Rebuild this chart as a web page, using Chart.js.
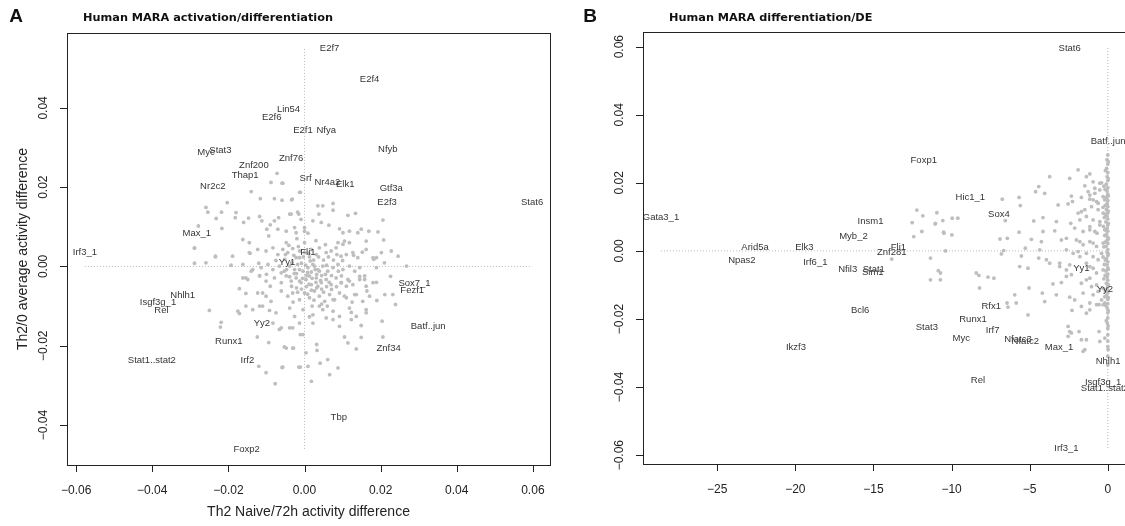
<!DOCTYPE html>
<html>
<head>
<meta charset="utf-8">
<script src="https://cdn.jsdelivr.net/npm/chart.js@4.4.0/dist/chart.umd.min.js"></script>
<style>
html, body { margin: 0; padding: 0; background: #fff; overflow: hidden; }
#wrapA { position: absolute; left: 0; top: 0; width: 565px; height: 526px; }
#wrapB { position: absolute; left: 565px; top: 0; width: 575px; height: 526px; }
</style>
</head>
<body>
<div id="wrapA"><canvas id="chartA"></canvas></div>
<div id="wrapB"><canvas id="chartB"></canvas></div>
<script>
// ---- panel A: activation/differentiation ----
const namesA = ['E2f7','E2f4','Lin54','E2f6','E2f1','Nfya','Nfyb','Myc','Stat3','Znf76','Znf200','Thap1','Srf','Nr4a2','Elk1','Nr2c2','Gtf3a','E2f3','Stat6','Max_1','Irf3_1','Fli1','Yy1','Nhlh1','Isgf3g_1','Rel','Sox7_1','Fezf1','Yy2','Batf..jun','Runx1','Znf34','Stat1..stat2','Irf2','Tbp','Foxp2']
const nameXA = [0.0066,0.0171,-0.0042,-0.0086,-0.0004,0.0057,0.0219,-0.0259,-0.0221,-0.0035,-0.0133,-0.0156,0.0003,0.0060,0.0107,-0.0241,0.0228,0.0217,0.0598,-0.0283,-0.0577,0.0009,-0.0046,-0.0320,-0.0385,-0.0376,0.0289,0.0283,-0.0112,0.0325,-0.0199,0.0221,-0.0401,-0.0150,0.0090,-0.0152]
const nameYA = [0.0549,0.0471,0.0396,0.0375,0.0344,0.0343,0.0296,0.0289,0.0294,0.0273,0.0256,0.0229,0.0222,0.0212,0.0206,0.0201,0.0197,0.0161,0.0161,0.0084,0.0035,0.0036,0.0011,-0.0073,-0.0090,-0.0111,-0.0042,-0.0060,-0.0144,-0.0152,-0.0189,-0.0207,-0.0237,-0.0237,-0.0380,-0.0461]

const greyA = [
  [-0.0072,0.0235],[-0.0088,0.0212],[-0.0059,0.0210],[-0.0140,0.0189],[-0.0116,0.0171],[-0.0079,0.0171],[-0.0059,0.0167],[-0.0034,0.0168],[-0.0013,0.0187],[-0.0203,0.0161],[-0.0259,0.0149],[-0.0254,0.0137],
  [-0.0218,0.0137],[-0.0232,0.0121],[-0.0180,0.0136],[-0.0182,0.0123],[-0.0160,0.0111],[-0.0147,0.0122],[-0.0118,0.0126],[-0.0112,0.0115],[-0.0090,0.0105],[-0.0079,0.0115],[-0.0068,0.0123],[-0.0039,0.0132],
  [-0.0015,0.0132],[-0.0217,0.0096],[-0.0279,0.0102],[-0.0099,0.0094],[-0.0070,0.0094],[-0.0094,0.0077],[-0.0048,0.0089],[-0.0026,0.0098],[0.0000,0.0089],[-0.0162,0.0068],[-0.0145,0.0060],[-0.0289,0.0047],
  [-0.0057,0.0210],[-0.0011,0.0187],[-0.0032,0.0170],[0.0035,0.0153],[0.0048,0.0153],[0.0075,0.0159],[0.0075,0.0142],[0.0134,0.0134],[0.0114,0.0129],[0.0206,0.0117],[0.0208,0.0067],[0.0169,0.0089],
  [0.0193,0.0087],[0.0149,0.0094],[0.0140,0.0085],[0.0118,0.0089],[0.0092,0.0095],[0.0101,0.0085],[0.0064,0.0104],[0.0044,0.0111],[0.0022,0.0115],[0.0038,0.0132],[-0.0018,0.0137],[-0.0035,0.0132],
  [-0.0009,0.0119],[0.0000,0.0098],[-0.0022,0.0085],[0.0009,0.0084],[0.0105,0.0064],[0.0088,0.0060],[-0.0048,0.0060],
  [-0.0289,0.0046],[-0.0234,0.0026],[-0.0289,0.0008],[-0.0259,0.0009],[-0.0162,0.0005],[-0.0193,0.0003],[-0.0143,0.0033],[-0.0120,0.0008],[-0.0154,-0.0029],[-0.0140,-0.0012],[-0.0118,-0.0023],[-0.0171,-0.0056],
  [-0.0154,-0.0068],[-0.0250,-0.0111],[-0.0219,-0.0141],[-0.0221,-0.0153],[-0.0171,-0.0119],[-0.0154,-0.0100],[-0.0124,-0.0178],[-0.0092,-0.0111],[-0.0120,-0.0252],[-0.0101,-0.0268],[-0.0077,-0.0296],[-0.0057,-0.0254],
  [-0.0015,-0.0254],[0.0004,-0.0218],[-0.0048,-0.0206],[-0.0031,-0.0206],[-0.0094,-0.0192],[-0.0066,-0.0159],[-0.0039,-0.0155],[-0.0011,-0.0172],[-0.0110,-0.0067],[-0.0118,-0.0100],[-0.0083,-0.0143],[-0.0013,-0.0143],[0.0018,-0.0290],
  [0.0246,0.0026],[0.0268,0.0001],[0.0189,0.0022],[0.0226,-0.0025],[0.0189,-0.0040],[0.0211,-0.0071],[0.0232,-0.0071],[0.0239,-0.0096],[0.0190,-0.0086],[0.0164,-0.0062],[0.0162,-0.0109],[0.0136,-0.0071],
  [0.0123,-0.0134],[0.0149,-0.0149],[0.0204,-0.0138],[0.0206,-0.0178],[0.0149,-0.0179],[0.0136,-0.0208],[0.0114,-0.0193],[0.0105,-0.0178],[0.0088,-0.0256],[0.0066,-0.0273],[0.0061,-0.0235],[0.0041,-0.0244],
  [0.0032,-0.0197],[0.0033,-0.0212],[0.0009,-0.0252],[-0.0011,-0.0254],[-0.0029,-0.0206],[-0.0053,-0.0203],[-0.0059,-0.0255],[0.0162,0.0064],[0.0101,0.0056],[0.0118,0.0060],[0.0152,0.0036],[0.0129,0.0028],
  [0.0182,0.0018],[0.0145,-0.0025],[0.0158,-0.0033],[0.0118,-0.0037],[0.0097,-0.0041],[0.0075,-0.0084],[0.0048,-0.0109],[0.0123,-0.0116],[0.0105,-0.0075],[0.0075,-0.0134],[0.0092,-0.0151],[0.0022,-0.0143],
  [0.0013,-0.0127],[-0.0004,-0.0172],[-0.0031,-0.0155],[-0.0061,-0.0155],
  [-0.0145,0.0035],[-0.0123,0.0043],[-0.0101,0.0039],[-0.0083,0.0047],[-0.0070,0.0030],[-0.0057,0.0043],[-0.0044,0.0035],[-0.0031,0.0045],[-0.0022,0.0022],[-0.0013,0.0039],[0.0018,0.0043],[0.0031,0.0030],
  [0.0039,0.0047],[0.0057,0.0035],[0.0070,0.0039],[0.0083,0.0047],[0.0096,0.0026],[0.0110,0.0030],[0.0127,0.0035],[0.0140,0.0022],[0.0162,0.0043],[0.0180,0.0022],[0.0202,0.0035],[0.0228,0.0039],
  [-0.0234,0.0024],[-0.0189,0.0026],
  [-0.0162,-0.0029],[-0.0136,-0.0008],[-0.0114,-0.0003],[-0.0096,0.0005],[-0.0083,-0.0008],[-0.0066,0.0001],[-0.0053,-0.0012],[-0.0039,0.0001],[-0.0026,-0.0008],[-0.0018,0.0005],[-0.0004,-0.0012],[0.0009,-0.0003],
  [0.0022,0.0005],[0.0035,-0.0008],[0.0048,0.0001],[0.0061,-0.0012],[0.0075,-0.0003],[0.0088,0.0005],[0.0101,-0.0008],[0.0118,0.0001],[0.0132,-0.0012],[0.0145,-0.0003],[0.0158,-0.0024],[0.0189,-0.0003],[0.0210,0.0009],
  [-0.0149,-0.0033],[-0.0118,-0.0024],[-0.0101,-0.0037],[-0.0079,-0.0029],[-0.0061,-0.0041],[-0.0048,-0.0024],[-0.0035,-0.0037],[-0.0022,-0.0029],[-0.0009,-0.0041],[0.0004,-0.0033],[0.0018,-0.0046],[0.0031,-0.0029],
  [0.0044,-0.0041],[0.0057,-0.0033],[0.0070,-0.0046],[0.0083,-0.0029],[0.0096,-0.0041],[0.0114,-0.0033],[0.0127,-0.0046],[0.0145,-0.0033],[0.0162,-0.0050],[0.0180,-0.0041],
  [-0.0123,-0.0067],[-0.0101,-0.0075],[-0.0088,-0.0088],[-0.0061,-0.0062],[-0.0044,-0.0075],[-0.0031,-0.0067],[-0.0013,-0.0084],[0.0000,-0.0067],[0.0013,-0.0079],[0.0026,-0.0062],[0.0039,-0.0075],[0.0053,-0.0088],
  [0.0066,-0.0071],[0.0079,-0.0084],[0.0092,-0.0067],[0.0110,-0.0079],[0.0132,-0.0071],[0.0153,-0.0088],[0.0171,-0.0075],
  [-0.0175,-0.0113],[-0.0136,-0.0109],[-0.0110,-0.0100],[-0.0075,-0.0117],[-0.0039,-0.0105],[-0.0026,-0.0126],[-0.0004,-0.0109],[0.0022,-0.0122],[0.0039,-0.0100],[0.0057,-0.0130],[0.0075,-0.0113],[0.0092,-0.0126],
  [0.0118,-0.0105],[0.0136,-0.0126],[0.0162,-0.0117],
  [-0.0041,0.0053],[-0.0028,0.0028],[-0.0016,0.0050],[-0.0003,0.0024],[0.0011,0.0033],[0.0024,0.0016],[0.0037,0.0024],[0.0050,0.0016],[0.0063,0.0024],[0.0076,0.0016],[-0.0034,0.0009],[-0.0021,-0.0018],
  [-0.0008,0.0008],[0.0005,-0.0023],[0.0018,-0.0014],[0.0032,-0.0020],[0.0045,-0.0023],[0.0058,0.0003],[0.0071,-0.0023],[-0.0047,-0.0008],[-0.0034,-0.0050],[-0.0021,-0.0054],[-0.0008,-0.0057],[0.0005,-0.0051],
  [0.0018,-0.0060],[0.0032,-0.0054],[0.0045,-0.0057],[0.0058,-0.0051],[0.0071,-0.0058],[0.0084,-0.0051],[-0.0052,0.0018],[-0.0061,-0.0016],[0.0089,-0.0012],[0.0097,-0.0024],[-0.0013,-0.0008],[0.0003,0.0003],
  [0.0015,0.0014],[-0.0027,-0.0018],[0.0030,-0.0040],[-0.0039,-0.0026],[-0.0013,0.0022],[0.0013,0.0024],[0.0000,0.0035],[0.0026,0.0001],[0.0039,-0.0012],[0.0013,-0.0024],[-0.0013,-0.0037],
  [0.0008,-0.0015],[0.0020,-0.0030],[0.0035,-0.0050],[0.0050,-0.0065],[0.0012,-0.0045],[-0.0005,-0.0030],[0.0028,-0.0008],[0.0042,-0.0035],[0.0055,-0.0020],[0.0065,-0.0040],[-0.0018,-0.0065],[0.0008,-0.0070],
  [0.0025,-0.0085],[0.0045,-0.0095],[-0.0030,-0.0090],[0.0060,-0.0100],[0.0020,-0.0100],[-0.0050,0.0030],[0.0000,0.0060],[0.0030,0.0065],[0.0055,0.0055],[-0.0020,0.0070],[0.0085,0.0030],[0.0100,0.0015],
  [0.0110,-0.0050],[0.0125,-0.0090],[-0.0090,-0.0050],[-0.0075,0.0015],[-0.0100,-0.0020]
]
const xTicksA = [-0.06, -0.04, -0.02, 0, 0.02, 0.04, 0.06]
const xTickLabelsA = ['\u22120.06', '\u22120.04', '\u22120.02', '0.00', '0.02', '0.04', '0.06']
const yTicksA = [-0.04, -0.02, 0, 0.02, 0.04]
const yTickLabelsA = ['\u22120.04', '\u22120.02', '0.00', '0.02', '0.04']

// ---- panel B: differentiation/DE ----
const namesB = ['Stat6','Batf..jun','Foxp1','Hic1_1','Sox4','Insm1','Gata3_1','Myb_2','Arid5a','Elk3','Fli1','Znf281','Npas2','Irf6_1','Nfil3','Stat1','Sim1','Bcl6','Ikzf3','Stat3','Runx1','Rfx1','Irf7','Myc','Nfatc3','Nfatc2','Max_1','Yy1','Yy2','Nhlh1','Rel','Isgf3g_1','Stat1..stat2','Irf3_1']
const nameXB = [-2.44,0.02,-11.78,-8.80,-6.97,-15.19,-28.6,-16.28,-22.58,-19.42,-13.4,-13.83,-23.42,-18.72,-16.65,-14.98,-15.04,-15.85,-19.96,-11.58,-8.63,-7.46,-7.37,-9.38,-5.75,-5.28,-3.12,-1.69,-0.19,0.02,-8.31,-0.3,-0.19,-2.65]
const nameYB = [0.0596,0.0323,0.0265,0.0156,0.0106,0.0088,0.0098,0.0042,0.0011,0.0011,0.0011,-0.0004,-0.0028,-0.0033,-0.0053,-0.0053,-0.0063,-0.0175,-0.0284,-0.0225,-0.0202,-0.0163,-0.0234,-0.0258,-0.0261,-0.0266,-0.0284,-0.0050,-0.0114,-0.0325,-0.0380,-0.0386,-0.0403,-0.0579]

const greyB = [
  [-1.90,0.0238],[-2.44,0.0213],[-1.15,0.0226],[-1.37,0.0218],[-3.72,0.0218],[-4.42,0.0189],[-4.62,0.0174],[-4.04,0.0169],[-0.94,0.0203],[-0.51,0.0199],[-0.83,0.0184],[-5.68,0.0157],
  [-6.75,0.0152],[-5.60,0.0133],[-3.18,0.0135],[-2.26,0.0145],[-1.15,0.0164],[-0.94,0.0150],[-0.62,0.0140],[-12.22,0.0120],[-11.84,0.0103],[-10.94,0.0112],[-12.52,0.0083],[-11.03,0.0081],
  [-10.56,0.0089],[-9.96,0.0096],[-9.60,0.0096],[-12.42,0.0042],[-11.90,0.0057],[-10.51,0.0055],[-9.98,0.0047],[-6.56,0.0089],[-4.74,0.0088],[-4.15,0.0098],[-5.68,0.0055],[-6.90,0.0035],
  [-6.43,0.0037],[-4.89,0.0034],[-4.25,0.0027],[-3.40,0.0059],[-2.65,0.0037],[-2.37,0.0081],[-1.90,0.0111],[-1.69,0.0115],[-1.37,0.0101],[-0.94,0.0091],[-0.51,0.0086],[-1.58,0.0057],
  [-1.15,0.0062],[-0.69,0.0052],[-1.79,0.0027],[-0.94,0.0023],[-10.38,0.0000],[-11.35,-0.0021],[-6.67,0.0001],[-5.28,0.0008],[-4.36,0.0003],[-3.93,-0.0026],[-5.53,-0.0015],[-4.42,-0.0021],
  [-6.81,-0.0009],[-2.65,0.0003],[-2.22,-0.0007],[-1.79,-0.0017],[-2.44,-0.0041],[-3.08,-0.0046],[-1.37,-0.0036],[-0.62,-0.0026],[-0.94,-0.0051],[-10.85,-0.0058],[-8.42,-0.0065],[-7.67,-0.0077],
  [-7.29,-0.0080],[-5.64,-0.0046],[-5.11,-0.0051],
  [-11.35,-0.0085],[-10.72,-0.0085],[-8.21,-0.0109],[-6.39,-0.0165],[-5.86,-0.0153],[-5.11,-0.0188],[-5.96,-0.0129],[-5.04,-0.0109],[-4.19,-0.0124],[-4.04,-0.0149],[-3.29,-0.0129],[-2.44,-0.0136],
  [-2.29,-0.0175],[-3.51,-0.0097],[-2.97,-0.0093],[-2.65,-0.0075],[-1.69,-0.0095],[-1.15,-0.0080],[-0.72,-0.0100],[-1.58,-0.0124],[-0.94,-0.0129],[-0.40,-0.0144],[-1.15,-0.0153],[-0.56,-0.0158],
  [-0.19,-0.0153],[-1.15,-0.0173],[-1.37,-0.0183],[-2.54,-0.0222],[-2.44,-0.0237],[-1.84,-0.0237],[-1.69,-0.0261],[-0.56,-0.0237],[-0.19,-0.0256],[-2.54,-0.0251],[-1.47,-0.0290],[0.02,-0.0290],
  [0.00,-0.0281],[-11.05,0.0079],[-10.49,0.0052],[-13.83,-0.0024],[-10.71,-0.0065],[-8.25,-0.0072],
  [-0.40,0.0200],[-1.47,0.0191],[-1.26,0.0174],[-0.83,0.0169],[-0.51,0.0179],[-2.33,0.0161],[-1.69,0.0157],[-1.15,0.0152],[-0.72,0.0145],[-0.30,0.0159],[-2.54,0.0138],[-1.47,0.0121],
  [-1.04,0.0130],[-0.62,0.0121],[-0.30,0.0111],[-4.15,0.0057],[-3.29,0.0086],[-2.97,0.0032],[-2.12,0.0067],[-1.79,0.0091],[-1.15,0.0071],[-0.83,0.0057],[-0.51,0.0076],[-0.19,0.0062],
  [-2.01,0.0032],[-1.58,0.0018],[-1.15,0.0027],[-0.72,0.0013],[-0.30,0.0023],[-1.90,-0.0002],[-1.37,-0.0007],[-0.94,-0.0017],[-0.40,-0.0007],[-3.72,-0.0036],[-3.08,-0.0036],[-2.65,-0.0056],
  [-2.33,-0.0070],[-1.15,-0.0046],[-0.72,-0.0065],[-0.30,-0.0056],[-1.37,-0.0085],[-1.04,-0.0105],[-0.62,-0.0119],[-2.12,-0.0144],[-1.69,-0.0163],[-0.72,-0.0158],[-0.30,-0.0158],[-6.45,-0.0153],
  [-2.33,-0.0241],[-1.37,-0.0261],[-1.58,-0.0295],[-0.51,-0.0266],
  [0.00,0.0282],[-0.05,0.0268],[0.00,0.0255],[-0.08,0.0242],[0.00,0.0230],[-0.04,0.0218],[0.00,0.0207],[-0.10,0.0196],[0.00,0.0186],[-0.05,0.0176],[0.00,0.0166],[-0.12,0.0157],
  [0.00,0.0148],[-0.04,0.0139],[0.00,0.0130],[-0.09,0.0121],[0.00,0.0112],[-0.05,0.0103],[0.00,0.0094],[-0.12,0.0085],[0.00,0.0076],[-0.04,0.0067],[0.00,0.0058],[-0.09,0.0049],
  [0.00,0.0040],[-0.05,0.0031],[0.00,0.0022],[-0.12,0.0013],[0.00,0.0004],[-0.04,-0.0005],[0.00,-0.0014],[-0.09,-0.0023],[0.00,-0.0032],[-0.05,-0.0041],[0.00,-0.0050],[-0.12,-0.0059],
  [0.00,-0.0068],[-0.04,-0.0077],[0.00,-0.0086],[-0.09,-0.0095],[0.00,-0.0104],[-0.05,-0.0113],[0.00,-0.0122],[-0.08,-0.0131],[0.00,-0.0142],[0.00,-0.0155],[-0.04,-0.0168],[0.00,-0.0182],
  [0.00,-0.0197],[-0.03,-0.0212],[0.00,-0.0228],[0.00,-0.0246],[0.00,-0.0265],[0.00,-0.0310],[0.00,-0.0335],
  [-0.25,0.0190],[-0.20,0.0150],[-0.30,0.0128],[-0.22,0.0098],[-0.28,0.0072],[-0.20,0.0045],[-0.25,0.0012],[-0.30,-0.0018],[-0.22,-0.0040],[-0.25,-0.0082],[-0.30,-0.0110],[-0.20,-0.0135],
  [0.03,0.0262],[-0.15,0.0236],[0.03,0.0212],[-0.18,0.0181],[0.03,0.0161],[-0.16,0.0134],[0.03,0.0117],[-0.17,0.0108],[0.03,0.0081],[-0.16,0.0062],[0.03,0.0035],[-0.17,0.0026],
  [0.03,-0.0009],[-0.16,-0.0027],[0.03,-0.0054],[-0.17,-0.0072],[0.03,-0.0099],[-0.16,-0.0118],[0.03,-0.0137],[-0.15,-0.0160],[0.02,-0.0175],[-0.10,-0.0205],[0.02,-0.0220]
]
const xTicksB = [-25, -20, -15, -10, -5, 0]
const xTickLabelsB = ['\u221225', '\u221220', '\u221215', '\u221210', '\u22125', '0']
const yTicksB = [-0.06, -0.04, -0.02, 0, 0.02, 0.04, 0.06]
const yTickLabelsB = ['\u22120.06', '\u22120.04', '\u22120.02', '0.00', '0.02', '0.04', '0.06']

// R-ish decorations: box, outward ticks, rotated y labels, text labels
function decor(o) {
    return {
        id: 'decor',
        afterDatasetsDraw(chart) {
            const ctx = chart.ctx
            const a = chart.chartArea
            const sx = chart.scales.x, sy = chart.scales.y
            ctx.save()
            ctx.textAlign = 'center'
            ctx.textBaseline = 'middle'
            ctx.fillStyle = '#353535'
            ctx.font = '9.5px "Liberation Sans", Arial, sans-serif'
            o.names.forEach(function (n, i) {
                ctx.fillText(n, sx.getPixelForValue(o.nx[i]), sy.getPixelForValue(o.ny[i]))
            })

            ctx.strokeStyle = '#222'
            ctx.lineWidth = 1
            ctx.strokeRect(Math.round(a.left) + 0.5, Math.round(a.top) + 0.5,
                Math.round(a.right - a.left), Math.round(a.bottom - a.top))

            ctx.beginPath()
            o.xTicks.forEach(function (v) {
                const p = Math.round(sx.getPixelForValue(v)) + 0.5
                ctx.moveTo(p, a.bottom)
                ctx.lineTo(p, a.bottom + 7)
            })
            o.yTicks.forEach(function (v) {
                const p = Math.round(sy.getPixelForValue(v)) + 0.5
                ctx.moveTo(a.left, p)
                ctx.lineTo(a.left - 7, p)
            })
            ctx.stroke()

            ctx.fillStyle = '#222'
            ctx.font = '12px "Liberation Sans", Arial, sans-serif'
            o.xTicks.forEach(function (v, i) {
                ctx.fillText(o.xLabels[i], sx.getPixelForValue(v), a.bottom + 26)
            })
            o.yTicks.forEach(function (v, i) {
                ctx.save()
                ctx.translate(a.left - 23, sy.getPixelForValue(v))
                ctx.rotate(-Math.PI / 2)
                ctx.fillText(o.yLabels[i], 0, 0)
                ctx.restore()
            })

            if (o.xTitle) {
                ctx.font = '14px "Liberation Sans", Arial, sans-serif'
                ctx.fillText(o.xTitle, (a.left + a.right) / 2, 512)
                ctx.save()
                ctx.translate(23, (a.top + a.bottom) / 2)
                ctx.rotate(-Math.PI / 2)
                ctx.fillText(o.yTitle, 0, 0)
                ctx.restore()
            }

            // panel letter and title
            ctx.fillStyle = '#111'
            ctx.font = 'bold 19px "Liberation Sans", Arial, sans-serif'
            ctx.fillText(o.letter, o.letterX, 17)
            ctx.textAlign = 'left'
            ctx.font = 'bold 11.3px "DejaVu Sans", sans-serif'
            ctx.fillText(o.title, o.titleX, 18)
            ctx.restore()
        }
    }
}

function toPts(arr) {
    return arr.map(function (p) { return { x: p[0], y: p[1] } })
}

function makeChart(id, c) {
    return new Chart(document.getElementById(id), {
        type: 'scatter',
        data: {
            datasets: [{
                data: c.hLine, showLine: true, borderColor: '#b8b8b8', borderWidth: 1,
                borderDash: [1, 2], pointRadius: 0
            }, {
                data: c.vLine, showLine: true, borderColor: '#b8b8b8', borderWidth: 1,
                borderDash: [1, 2], pointRadius: 0
            }, {
                data: toPts(c.grey), pointRadius: 1.9, pointBorderWidth: 0,
                backgroundColor: '#bebebe', borderColor: '#bebebe'
            }]
        },
        options: {
            responsive: true,
            maintainAspectRatio: false,
            animation: false,
            events: [],
            layout: { padding: c.padding },
            scales: {
                x: { type: 'linear', display: false, min: c.xMin, max: c.xMax },
                y: { type: 'linear', display: false, min: c.yMin, max: c.yMax }
            },
            plugins: { legend: { display: false }, tooltip: { enabled: false } }
        },
        plugins: [decor(c.decor)]
    })
}

makeChart('chartA', {
    grey: greyA,
    hLine: [{ x: -0.0577, y: 0 }, { x: 0.0598, y: 0 }],
    vLine: [{ x: 0, y: 0.0549 }, { x: 0, y: -0.0461 }],
    padding: { left: 67, right: 15, top: 33, bottom: 61 },
    xMin: -0.0624, xMax: 0.0645, yMin: -0.0501, yMax: 0.0589,
    decor: {
        names: namesA, nx: nameXA, ny: nameYA,
        xTicks: xTicksA, xLabels: xTickLabelsA, yTicks: yTicksA, yLabels: yTickLabelsA,
        xTitle: 'Th2 Naive/72h activity difference', yTitle: 'Th2/0 average activity difference',
        letter: 'A', letterX: 16, title: 'Human MARA activation/differentiation', titleX: 83
    }
})

makeChart('chartB', {
    grey: greyB,
    hLine: [{ x: -28.6, y: 0 }, { x: 0.02, y: 0 }],
    vLine: [{ x: 0, y: 0.0596 }, { x: 0, y: -0.0579 }],
    padding: { left: 78, right: 14, top: 32, bottom: 62 },
    xMin: -29.75, xMax: 1.165, yMin: -0.0626, yMax: 0.0643,
    decor: {
        names: namesB, nx: nameXB, ny: nameYB,
        xTicks: xTicksB, xLabels: xTickLabelsB, yTicks: yTicksB, yLabels: yTickLabelsB,
        letter: 'B', letterX: 25, title: 'Human MARA differentiation/DE', titleX: 104
    }
})
</script>
</body>
</html>
